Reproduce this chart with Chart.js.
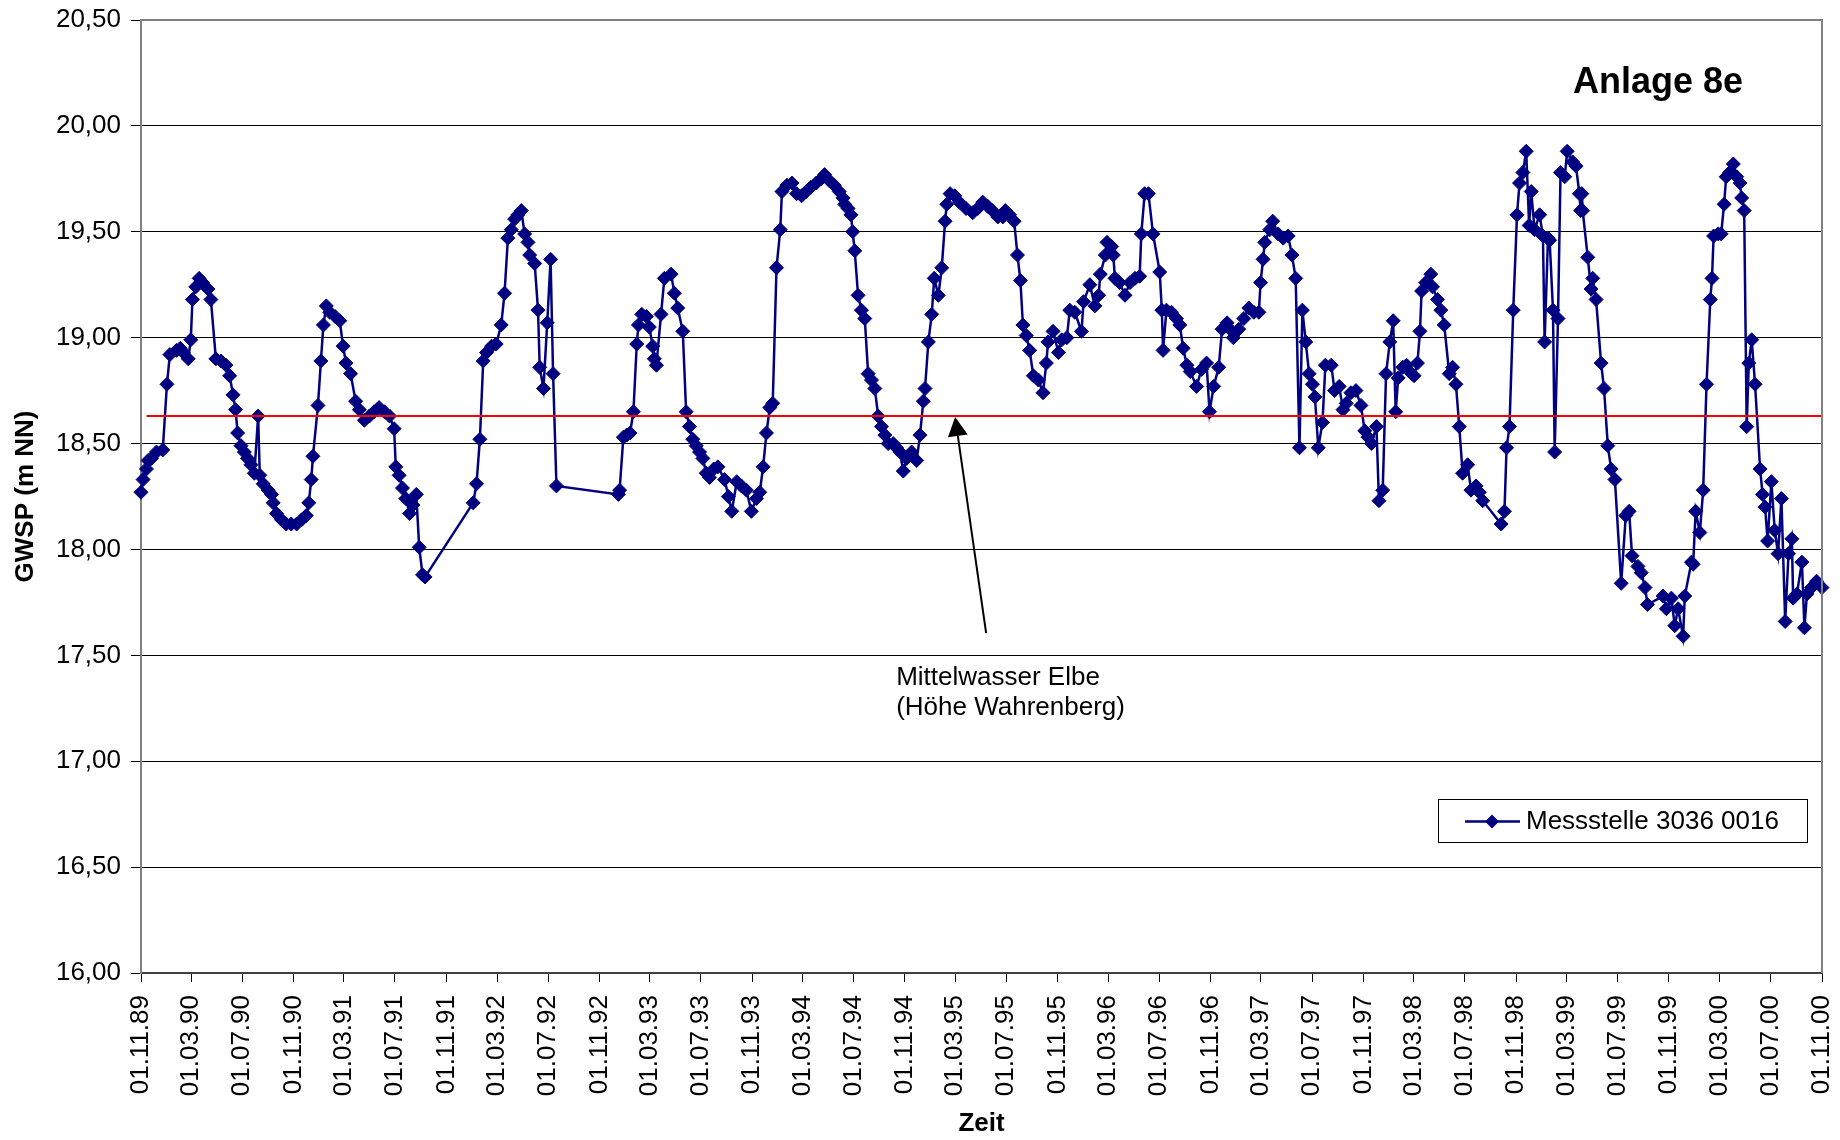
<!DOCTYPE html>
<html>
<head>
<meta charset="utf-8">
<script src="https://cdn.jsdelivr.net/npm/chart.js@4.4.1/dist/chart.umd.min.js"></script>
<style>
html,body{margin:0;padding:0;background:#fff;}
#wrap{width:1840px;height:1140px;position:relative;}
</style>
</head>
<body>
<div id="wrap"><canvas id="c" width="1840" height="1140"></canvas></div>
<script>
// ---------- data ----------
const chartTitle = 'Anlage 8e';
const seriesLabel = 'Messstelle 3036 0016';
const yTitle = 'GWSP (m NN)';
const xTitle = 'Zeit';
const noteLines = ['Mittelwasser Elbe', '(Höhe Wahrenberg)'];
const mittelwasser = 18.63;
const mittelwasserDates = ['1989-11-14', '2000-11-01'];
const arrowTipDate = '1995-03-01';

const xTickDates = ['1989-11-01','1990-03-01','1990-07-01','1990-11-01','1991-03-01','1991-07-01','1991-11-01',
 '1992-03-01','1992-07-01','1992-11-01','1993-03-01','1993-07-01','1993-11-01','1994-03-01','1994-07-01',
 '1994-11-01','1995-03-01','1995-07-01','1995-11-01','1996-03-01','1996-07-01','1996-11-01','1997-03-01',
 '1997-07-01','1997-11-01','1998-03-01','1998-07-01','1998-11-01','1999-03-01','1999-07-01','1999-11-01',
 '2000-03-01','2000-07-01','2000-11-01'];
const yTicks = [16.0,16.5,17.0,17.5,18.0,18.5,19.0,19.5,20.0,20.5];

const dates = [
 '1989-11-01','1989-11-06','1989-11-14','1989-11-18','1989-11-26','1989-12-08','1989-12-23','1990-01-02','1990-01-09','1990-01-25',
 '1990-02-03','1990-02-10','1990-02-22','1990-02-28','1990-03-04','1990-03-12','1990-03-20','1990-03-28','1990-04-10','1990-04-17',
 '1990-04-29','1990-05-11','1990-05-23','1990-06-01','1990-06-09','1990-06-15','1990-06-20','1990-06-28','1990-07-06','1990-07-14',
 '1990-07-22','1990-07-30','1990-08-08','1990-08-12','1990-08-20','1990-09-01','1990-09-09','1990-09-13','1990-09-21','1990-10-03',
 '1990-10-14','1990-10-26','1990-11-08','1990-11-20','1990-12-01','1990-12-07','1990-12-13','1990-12-17','1990-12-29','1991-01-05',
 '1991-01-11','1991-01-18','1991-01-26','1991-02-08','1991-02-19','1991-02-27','1991-03-06','1991-03-17','1991-03-29','1991-04-07',
 '1991-04-19','1991-05-01','1991-05-12','1991-05-24','1991-06-06','1991-06-18','1991-06-29','1991-07-03','1991-07-11','1991-07-19',
 '1991-07-27','1991-08-05','1991-08-13','1991-08-21','1991-08-28','1991-09-05','1991-09-11',
 '1992-01-04','1992-01-12','1992-01-20','1992-01-28','1992-02-05','1992-02-17','1992-02-28','1992-03-11','1992-03-19','1992-03-27',
 '1992-04-04','1992-04-12','1992-04-20','1992-04-28','1992-05-06','1992-05-14','1992-05-18','1992-05-30','1992-06-07','1992-06-11',
 '1992-06-20','1992-06-29','1992-07-07','1992-07-13','1992-07-21',
 '1992-12-16','1992-12-19','1992-12-28','1993-01-05','1993-01-13','1993-01-21','1993-01-29','1993-02-02','1993-02-10','1993-02-21',
 '1993-02-28','1993-03-08','1993-03-12','1993-03-17','1993-03-28','1993-04-05','1993-04-21','1993-04-29','1993-05-07','1993-05-19',
 '1993-05-27','1993-06-04','1993-06-12','1993-06-20','1993-06-28','1993-07-06','1993-07-14','1993-07-22','1993-08-01','1993-08-11',
 '1993-08-27','1993-09-05','1993-09-13','1993-09-25','1993-10-06','1993-10-18','1993-10-30','1993-11-11','1993-11-19','1993-11-27',
 '1993-12-05','1993-12-13','1993-12-20','1993-12-29','1994-01-07','1994-01-11','1994-01-23','1994-02-04','1994-02-15','1994-02-27',
 '1994-03-10','1994-03-21','1994-04-03','1994-04-15','1994-04-23','1994-05-05','1994-05-16','1994-05-28','1994-06-06','1994-06-10',
 '1994-06-18','1994-06-25','1994-06-29','1994-07-04','1994-07-12','1994-07-20','1994-07-28','1994-08-05','1994-08-13','1994-08-21',
 '1994-08-29','1994-09-06','1994-09-14','1994-09-22','1994-10-04','1994-10-12','1994-10-20','1994-10-28','1994-11-05','1994-11-17',
 '1994-11-29','1994-12-07','1994-12-15','1994-12-19','1994-12-27','1995-01-04','1995-01-10','1995-01-20','1995-01-28','1995-02-05',
 '1995-02-09','1995-02-17','1995-02-28','1995-03-11','1995-03-27','1995-04-12','1995-04-24','1995-05-06','1995-05-18','1995-05-29',
 '1995-06-11','1995-06-23','1995-06-29','1995-07-09','1995-07-20','1995-07-28','1995-08-04','1995-08-10','1995-08-18','1995-08-26',
 '1995-09-04','1995-09-16','1995-09-27','1995-10-05','1995-10-09','1995-10-21','1995-11-03','1995-11-11','1995-11-23','1995-11-30',
 '1995-12-12','1995-12-28','1996-01-02','1996-01-17','1996-01-29','1996-02-07','1996-02-11','1996-02-23','1996-02-27','1996-03-09',
 '1996-03-13','1996-03-17','1996-03-28','1996-04-10','1996-04-22','1996-05-04','1996-05-15','1996-05-19','1996-05-27','1996-06-05',
 '1996-06-16','1996-07-02','1996-07-07','1996-07-10','1996-07-18','1996-07-30','1996-08-11','1996-08-19','1996-08-27','1996-09-05',
 '1996-09-13','1996-09-28','1996-10-10','1996-10-22','1996-10-29','1996-11-08','1996-11-20','1996-11-28','1996-12-10','1996-12-17',
 '1996-12-25','1997-01-07','1997-01-19','1997-01-31','1997-02-12','1997-02-24','1997-02-28','1997-03-06','1997-03-10','1997-03-22',
 '1997-03-29','1997-04-11','1997-04-23','1997-05-05','1997-05-14','1997-05-23','1997-06-01','1997-06-08','1997-06-16','1997-06-24',
 '1997-07-02','1997-07-08','1997-07-16','1997-07-26','1997-08-02','1997-08-16','1997-08-24','1997-09-04','1997-09-13','1997-09-21',
 '1997-10-02','1997-10-14','1997-10-26','1997-11-04','1997-11-12','1997-11-20','1997-12-02','1997-12-08','1997-12-17','1997-12-25',
 '1998-01-03','1998-01-11','1998-01-17','1998-01-23','1998-02-03','1998-02-12','1998-02-24','1998-03-02','1998-03-10','1998-03-16',
 '1998-03-20','1998-03-30','1998-04-11','1998-04-15','1998-04-27','1998-05-05','1998-05-13','1998-05-25','1998-06-02','1998-06-10',
 '1998-06-18','1998-06-26','1998-07-08','1998-07-16','1998-07-28','1998-08-05','1998-08-13','1998-09-26','1998-10-04','1998-10-09',
 '1998-10-16','1998-10-25','1998-11-03','1998-11-09','1998-11-17','1998-11-25','1998-12-02','1998-12-07','1998-12-15','1998-12-27',
 '1999-01-04','1999-01-08','1999-01-16','1999-01-20','1999-01-28','1999-02-01','1999-02-09','1999-02-15','1999-02-25','1999-03-03',
 '1999-03-16','1999-03-24','1999-04-01','1999-04-04','1999-04-07','1999-04-09','1999-04-21','1999-04-29','1999-05-03','1999-05-11',
 '1999-05-23','1999-05-30','1999-06-08','1999-06-16','1999-06-25','1999-07-10','1999-07-21','1999-07-29','1999-08-05','1999-08-19',
 '1999-08-27','1999-09-05','1999-09-11','1999-10-18','1999-10-26','1999-11-07','1999-11-15','1999-11-23','1999-12-05','1999-12-09',
 '1999-12-25','1999-12-29','2000-01-04','2000-01-14','2000-01-22','2000-01-30','2000-02-08','2000-02-12','2000-02-16','2000-02-27',
 '2000-03-05','2000-03-12','2000-03-17','2000-03-25','2000-04-03','2000-04-11','2000-04-19','2000-04-23','2000-04-29','2000-05-05',
 '2000-05-10','2000-05-17','2000-05-25','2000-06-06','2000-06-12','2000-06-18','2000-06-24','2000-07-03','2000-07-11','2000-07-19',
 '2000-07-27','2000-08-05','2000-08-13','2000-08-21','2000-08-24','2000-09-02','2000-09-14','2000-09-20','2000-09-26','2000-10-07',
 '2000-10-19','2000-11-01'
];

const levels = [
 18.27,18.33,18.38,18.42,18.43,18.46,18.47,18.78,18.92,18.94,
 18.95,18.93,18.90,18.99,19.18,19.24,19.28,19.26,19.23,19.18,
 18.90,18.89,18.87,18.82,18.73,18.66,18.55,18.49,18.46,18.43,
 18.40,18.36,18.63,18.35,18.31,18.28,18.26,18.22,18.17,18.14,
 18.12,18.12,18.12,18.14,18.16,18.22,18.33,18.44,18.68,18.89,
 19.06,19.15,19.12,19.10,19.08,18.96,18.88,18.83,18.70,18.66,
 18.61,18.63,18.65,18.67,18.65,18.63,18.57,18.39,18.35,18.29,
 18.24,18.17,18.21,18.26,18.01,17.88,17.87,
 18.22,18.31,18.52,18.89,18.93,18.96,18.97,19.06,19.21,19.47,
 19.51,19.56,19.58,19.60,19.49,19.45,19.39,19.35,19.13,18.86,
 18.76,19.07,19.37,18.83,18.30,
 18.26,18.28,18.53,18.54,18.55,18.65,18.97,19.06,19.11,19.10,
 19.05,18.96,18.90,18.87,19.11,19.28,19.30,19.21,19.14,19.03,
 18.65,18.58,18.52,18.49,18.46,18.43,18.36,18.34,18.38,18.39,
 18.33,18.25,18.18,18.32,18.30,18.28,18.18,18.24,18.27,18.39,
 18.55,18.67,18.69,19.33,19.51,19.69,19.72,19.73,19.68,19.67,
 19.69,19.71,19.73,19.75,19.77,19.74,19.72,19.69,19.66,19.63,
 19.61,19.58,19.50,19.41,19.20,19.13,19.09,18.83,18.80,18.76,
 18.63,18.58,18.54,18.50,18.50,18.48,18.46,18.37,18.43,18.46,
 18.42,18.54,18.70,18.76,18.98,19.11,19.28,19.20,19.33,19.55,
 19.63,19.68,19.67,19.64,19.61,19.59,19.61,19.64,19.62,19.60,
 19.57,19.57,19.60,19.58,19.55,19.39,19.27,19.06,19.01,18.94,
 18.82,18.80,18.74,18.88,18.98,19.03,18.93,18.99,19.00,19.13,
 19.12,19.03,19.17,19.25,19.15,19.20,19.30,19.39,19.45,19.43,
 19.39,19.28,19.26,19.20,19.26,19.28,19.29,19.49,19.68,19.68,
 19.49,19.31,19.13,18.94,19.13,19.12,19.09,19.06,18.95,18.87,
 18.84,18.77,18.85,18.88,18.65,18.77,18.86,19.04,19.07,19.04,
 19.00,19.04,19.09,19.14,19.12,19.12,19.26,19.37,19.45,19.51,
 19.55,19.49,19.47,19.48,19.39,19.28,18.48,19.13,18.98,18.83,
 18.78,18.72,18.48,18.60,18.87,18.87,18.75,18.77,18.66,18.69,
 18.74,18.75,18.68,18.56,18.53,18.50,18.58,18.23,18.28,18.83,
 18.98,19.08,18.65,18.81,18.86,18.87,18.83,18.82,18.88,19.03,
 19.22,19.26,19.30,19.24,19.18,19.13,19.06,18.83,18.86,18.78,
 18.58,18.36,18.40,18.28,18.30,18.27,18.23,18.12,18.18,18.48,
 18.58,19.13,19.58,19.73,19.78,19.88,19.53,19.69,19.51,19.58,
 19.48,18.98,19.47,19.46,19.13,18.46,19.09,19.78,19.76,19.88,
 19.83,19.81,19.68,19.60,19.68,19.60,19.38,19.23,19.28,19.18,
 18.88,18.76,18.49,18.38,18.33,17.84,18.16,18.18,17.97,17.92,
 17.89,17.82,17.74,17.78,17.72,17.77,17.64,17.72,17.59,17.78,
 17.94,17.93,18.18,18.08,18.28,18.78,19.18,19.28,19.48,19.49,
 19.49,19.63,19.76,19.78,19.82,19.76,19.73,19.66,19.60,18.58,
 18.88,18.99,18.78,18.38,18.26,18.20,18.04,18.32,18.09,17.98,
 18.24,17.66,17.98,18.05,17.77,17.79,17.94,17.63,17.79,17.82,
 17.85,17.82
];

// ---------- helpers ----------
const toTime = s => Date.UTC(+s.slice(0,4), +s.slice(5,7) - 1, +s.slice(8,10));
const pad2 = n => (n < 10 ? '0' : '') + n;
const fmtDate = v => { const d = new Date(v); return pad2(d.getUTCDate()) + '.' + pad2(d.getUTCMonth() + 1) + '.' + pad2(d.getUTCFullYear() % 100); };
const fmtNum = v => v.toFixed(2).replace('.', ',');

const FONT = "'Liberation Sans', Arial, Helvetica, sans-serif";
const NAVY = '#000080';
Chart.defaults.font.family = FONT;
Chart.defaults.color = '#000';

const seriesPoints = dates.map((d, i) => ({ x: toTime(d), y: levels[i] }));
const mwPoints = mittelwasserDates.map(d => ({ x: toTime(d), y: mittelwasser }));

function diamond(ctx, x, y, r) {
  ctx.beginPath();
  ctx.moveTo(x - r, y); ctx.lineTo(x, y - r); ctx.lineTo(x + r, y); ctx.lineTo(x, y + r);
  ctx.closePath();
}

const decorPlugin = {
  id: 'decor',
  afterDraw(chart) {
    const { ctx, chartArea: a, scales } = chart;
    ctx.save();
    // plot-area frame (top + right)
    ctx.strokeStyle = '#808080';
    ctx.lineWidth = 2;
    ctx.beginPath();
    ctx.moveTo(a.left, a.top); ctx.lineTo(a.right, a.top); ctx.lineTo(a.right, a.bottom);
    ctx.stroke();

    // title inside plot
    ctx.fillStyle = '#000';
    ctx.font = 'bold 36px ' + FONT;
    ctx.textAlign = 'right';
    ctx.textBaseline = 'alphabetic';
    ctx.fillText(chartTitle, a.right - 79, a.top + 73);

    // legend box
    const lx = a.right - 384, ly = a.top + 779, lw = 369, lh = 43;
    ctx.fillStyle = '#fff';
    ctx.fillRect(lx, ly, lw, lh);
    ctx.strokeStyle = '#000';
    ctx.lineWidth = 1;
    ctx.strokeRect(lx + 0.5, ly + 0.5, lw, lh);
    const cy = ly + lh / 2 + 1;
    ctx.strokeStyle = NAVY;
    ctx.lineWidth = 2.5;
    ctx.beginPath(); ctx.moveTo(lx + 27, cy); ctx.lineTo(lx + 82, cy); ctx.stroke();
    ctx.fillStyle = NAVY;
    diamond(ctx, lx + 54, cy, 7); ctx.fill();
    ctx.fillStyle = '#000';
    ctx.font = '26px ' + FONT;
    ctx.textAlign = 'left';
    ctx.textBaseline = 'middle';
    ctx.fillText(seriesLabel, lx + 88, cy);

    // annotation arrow to Mittelwasser line
    const tx = scales.x.getPixelForValue(toTime(arrowTipDate));
    const ty = scales.y.getPixelForValue(mittelwasser) + 1;
    const ex = tx + 31, ey = ty + 216;
    const ang = Math.atan2(ty - ey, tx - ex);
    const hl = 19, hw = 10;
    const bx = tx - hl * Math.cos(ang), by = ty - hl * Math.sin(ang);
    ctx.strokeStyle = '#000';
    ctx.lineWidth = 2;
    ctx.beginPath(); ctx.moveTo(ex, ey); ctx.lineTo(bx, by); ctx.stroke();
    ctx.fillStyle = '#000';
    ctx.beginPath();
    ctx.moveTo(tx, ty);
    ctx.lineTo(bx + hw * Math.sin(ang), by - hw * Math.cos(ang));
    ctx.lineTo(bx - hw * Math.sin(ang), by + hw * Math.cos(ang));
    ctx.closePath(); ctx.fill();

    ctx.font = '26px ' + FONT;
    ctx.textAlign = 'left';
    ctx.textBaseline = 'alphabetic';
    ctx.fillText(noteLines[0], tx - 59, ty + 268);
    ctx.fillText(noteLines[1], tx - 59, ty + 298);
    ctx.restore();
  }
};

new Chart(document.getElementById('c'), {
  type: 'line',
  data: {
    datasets: [
      {
        label: 'Mittelwasser Elbe',
        data: mwPoints,
        borderColor: '#ff0000',
        borderWidth: 2,
        pointRadius: 0,
        order: 0,
        clip: false
      },
      {
        label: seriesLabel,
        data: seriesPoints,
        borderColor: NAVY,
        backgroundColor: NAVY,
        borderWidth: 2.5,
        pointStyle: 'rectRot',
        pointRadius: 7,
        pointBorderWidth: 1,
        pointBackgroundColor: NAVY,
        pointBorderColor: NAVY,
        tension: 0,
        order: 1,
        clip: false
      }
    ]
  },
  options: {
    responsive: false,
    animation: false,
    devicePixelRatio: 1,
    layout: { padding: { top: 20, right: 18, left: 0, bottom: 0 } },
    plugins: {
      legend: { display: false },
      tooltip: { enabled: false },
      title: { display: false }
    },
    scales: {
      x: {
        type: 'linear',
        min: toTime(xTickDates[0]),
        max: toTime(xTickDates[xTickDates.length - 1]),
        afterBuildTicks: s => { s.ticks = xTickDates.map(d => ({ value: toTime(d) })); },
        afterFit: s => { s.height = 167; s.paddingLeft = 0; s.paddingRight = 0; },
        ticks: {
          autoSkip: false,
          minRotation: 90,
          maxRotation: 90,
          padding: 13,
          font: { size: 26 },
          color: '#000',
          callback: v => fmtDate(v)
        },
        grid: { drawOnChartArea: false, color: '#000', lineWidth: 1, tickLength: 9 },
        border: { color: '#404040', width: 2 },
        title: { display: true, text: xTitle, font: { size: 26, weight: 'bold' }, color: '#000', padding: { top: 0, bottom: 1 } }
      },
      y: {
        type: 'linear',
        min: yTicks[0],
        max: yTicks[yTicks.length - 1],
        afterBuildTicks: s => { s.ticks = yTicks.map(v => ({ value: v })); },
        afterFit: s => { s.width = 141; s.paddingTop = 0; s.paddingBottom = 0; },
        ticks: {
          padding: 10,
          font: { size: 26 },
          color: '#000',
          callback: v => fmtNum(v)
        },
        grid: { color: '#000', lineWidth: 1, tickLength: 10 },
        border: { color: '#808080', width: 2 },
        title: { display: true, text: yTitle, font: { size: 26, weight: 'bold' }, color: '#000', padding: { top: 10, bottom: 0 } }
      }
    }
  },
  plugins: [decorPlugin]
});
</script>
</body>
</html>
